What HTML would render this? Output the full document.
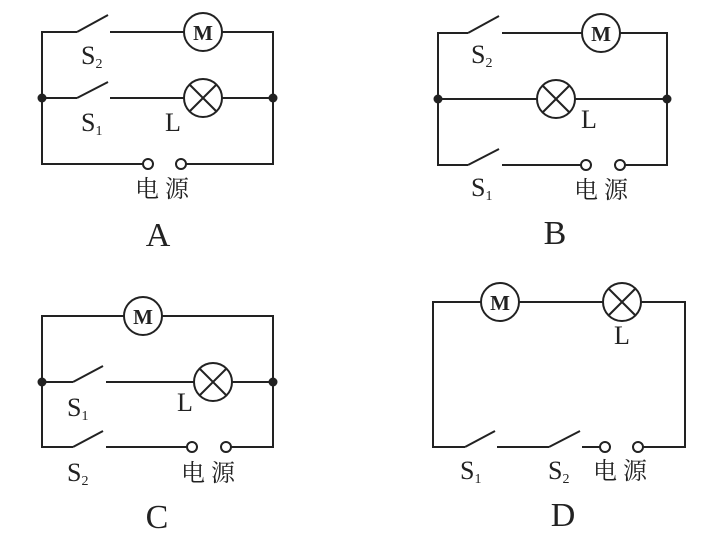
<!DOCTYPE html>
<html><head><meta charset="utf-8"><style>html,body{margin:0;padding:0;background:#fff}svg{display:block}</style></head>
<body>
<svg width="723" height="543" viewBox="0 0 723 543" xmlns="http://www.w3.org/2000/svg" font-family="Liberation Serif, Noto Serif CJK SC, serif" fill="#222">
<g stroke="#222" stroke-width="2" fill="none">
<polyline points="77,32 42,32 42,164 143,164"/>
<line x1="77" y1="32" x2="108" y2="15"/>
<line x1="110" y1="32" x2="184" y2="32"/>
<circle cx="203" cy="32" r="19"/>
<polyline points="222,32 273,32 273,164 186,164"/>
<line x1="42" y1="98" x2="77" y2="98"/><line x1="77" y1="98" x2="108" y2="82"/>
<line x1="110" y1="98" x2="184" y2="98"/>
<circle cx="203" cy="98" r="19"/>
<line x1="190" y1="85" x2="216" y2="111"/><line x1="216" y1="85" x2="190" y2="111"/>
<line x1="222" y1="98" x2="273" y2="98"/>
<circle cx="148" cy="164" r="5" fill="#fff"/><circle cx="181" cy="164" r="5" fill="#fff"/>
<polyline points="468,33 438,33 438,165 468,165"/>
<line x1="468" y1="33" x2="499" y2="16"/>
<line x1="502" y1="33" x2="582" y2="33"/>
<circle cx="601" cy="33" r="19"/>
<polyline points="620,33 667,33 667,165 625,165"/>
<line x1="438" y1="99" x2="537" y2="99"/>
<circle cx="556" cy="99" r="19"/>
<line x1="543" y1="86" x2="569" y2="112"/><line x1="569" y1="86" x2="543" y2="112"/>
<line x1="575" y1="99" x2="667" y2="99"/>
<line x1="468" y1="165" x2="499" y2="149"/>
<line x1="502" y1="165" x2="581" y2="165"/>
<circle cx="586" cy="165" r="5" fill="#fff"/><circle cx="620" cy="165" r="5" fill="#fff"/>
<polyline points="124,316 42,316 42,447 73,447"/>
<circle cx="143" cy="316" r="19"/>
<polyline points="162,316 273,316 273,447 231,447"/>
<line x1="42" y1="382" x2="73" y2="382"/><line x1="73" y1="382" x2="103" y2="366"/>
<line x1="106" y1="382" x2="194" y2="382"/>
<circle cx="213" cy="382" r="19"/>
<line x1="200" y1="369" x2="226" y2="395"/><line x1="226" y1="369" x2="200" y2="395"/>
<line x1="232" y1="382" x2="273" y2="382"/>
<line x1="73" y1="447" x2="103" y2="431"/>
<line x1="106" y1="447" x2="187" y2="447"/>
<circle cx="192" cy="447" r="5" fill="#fff"/><circle cx="226" cy="447" r="5" fill="#fff"/>
<polyline points="481,302 433,302 433,447 465,447"/>
<circle cx="500" cy="302" r="19"/>
<line x1="519" y1="302" x2="603" y2="302"/>
<circle cx="622" cy="302" r="19"/>
<line x1="609" y1="289" x2="635" y2="315"/><line x1="635" y1="289" x2="609" y2="315"/>
<polyline points="641,302 685,302 685,447 643,447"/>
<line x1="465" y1="447" x2="495" y2="431"/>
<line x1="497" y1="447" x2="549" y2="447"/>
<line x1="549" y1="447" x2="580" y2="431"/>
<line x1="582" y1="447" x2="600" y2="447"/>
<circle cx="605" cy="447" r="5" fill="#fff"/><circle cx="638" cy="447" r="5" fill="#fff"/>
</g>
<g fill="#222">
<circle cx="42" cy="98" r="4.5"/><circle cx="273" cy="98" r="4.5"/>
<circle cx="438" cy="99" r="4.5"/><circle cx="667" cy="99" r="4.5"/>
<circle cx="42" cy="382" r="4.5"/><circle cx="273" cy="382" r="4.5"/>
</g>
<g font-size="21" font-weight="bold" text-anchor="middle">
<text x="203" y="40">M</text><text x="601" y="41">M</text><text x="143" y="324">M</text><text x="500" y="310">M</text>
</g>
<g font-size="26">
<text x="81" y="64">S<tspan font-size="14" dy="4">2</tspan></text>
<text x="81" y="131">S<tspan font-size="14" dy="4">1</tspan></text>
<text x="165" y="131">L</text>
<text x="135" y="197" font-size="24">电 源</text>
<text x="471" y="63">S<tspan font-size="14" dy="4">2</tspan></text>
<text x="581" y="128">L</text>
<text x="471" y="196">S<tspan font-size="14" dy="4">1</tspan></text>
<text x="574" y="198" font-size="24">电 源</text>
<text x="67" y="416">S<tspan font-size="14" dy="4">1</tspan></text>
<text x="177" y="411">L</text>
<text x="67" y="481">S<tspan font-size="14" dy="4">2</tspan></text>
<text x="181" y="481" font-size="24">电 源</text>
<text x="614" y="344">L</text>
<text x="460" y="479">S<tspan font-size="14" dy="4">1</tspan></text>
<text x="548" y="479">S<tspan font-size="14" dy="4">2</tspan></text>
<text x="593" y="479" font-size="24">电 源</text>
</g>
<g font-size="34" text-anchor="middle">
<text x="158" y="246">A</text>
<text x="555" y="244">B</text>
<text x="157" y="528">C</text>
<text x="563" y="526">D</text>
</g>
</svg>
</body></html>
